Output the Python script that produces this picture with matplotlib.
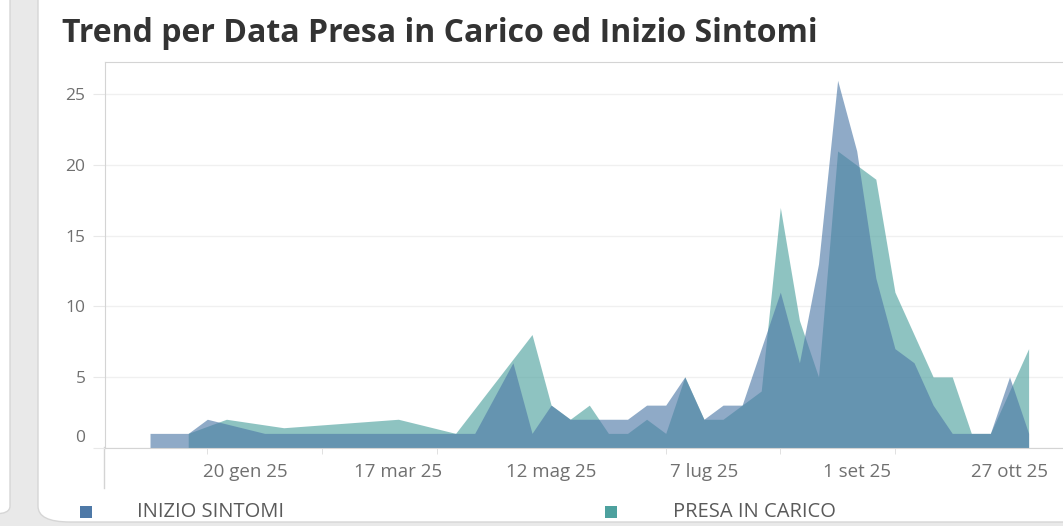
import matplotlib
matplotlib.use("Agg")
import matplotlib.pyplot as plt
import matplotlib.transforms as mtrans
from matplotlib.patches import FancyBboxPatch, Rectangle
import pandas as pd

# weekly points (Monday of each week)
sintomi_dates = ["2024-12-16", "2024-12-23", "2024-12-30", "2025-01-06", "2025-01-27",
                 "2025-04-07", "2025-04-14", "2025-04-28", "2025-05-05", "2025-05-12",
                 "2025-05-19", "2025-05-26", "2025-06-02", "2025-06-09", "2025-06-16",
                 "2025-06-23", "2025-06-30", "2025-07-07", "2025-07-14", "2025-07-21",
                 "2025-07-28", "2025-08-04", "2025-08-11", "2025-08-18", "2025-08-25",
                 "2025-09-01", "2025-09-08", "2025-09-15", "2025-09-22", "2025-09-29",
                 "2025-10-06", "2025-10-13", "2025-10-20", "2025-10-27", "2025-11-03"]
sintomi_vals = [1, 1, 1, 2, 1,
                1, 1, 6, 1, 3,
                2, 2, 2, 2, 3,
                3, 5, 2, 3, 3,
                7, 11, 6, 13, 26,
                21, 12, 7, 6, 3,
                1, 1, 1, 5, 1]

carico_dates = ["2024-12-30", "2025-01-13", "2025-02-03", "2025-03-17", "2025-04-07",
                "2025-05-05", "2025-05-12", "2025-05-19", "2025-05-26", "2025-06-02",
                "2025-06-09", "2025-06-16", "2025-06-23", "2025-06-30", "2025-07-07",
                "2025-07-14", "2025-07-21", "2025-07-28", "2025-08-04", "2025-08-11",
                "2025-08-18", "2025-08-25", "2025-09-01", "2025-09-08", "2025-09-15",
                "2025-09-22", "2025-09-29", "2025-10-06", "2025-10-13", "2025-10-20",
                "2025-10-27", "2025-11-03"]
carico_vals = [1, 2, 1.4, 2, 1,
               8, 3, 2, 3, 1,
               1, 2, 1, 5, 2,
               2, 3, 4, 17, 9,
               5, 21, 20, 19, 11,
               8, 5, 5, 1, 1,
               4, 7]

sintomi = pd.Series(sintomi_vals, index=pd.to_datetime(sintomi_dates))
carico = pd.Series(carico_vals, index=pd.to_datetime(carico_dates))

label_dates = ["2025-01-20", "2025-03-17", "2025-05-12", "2025-07-07", "2025-09-01", "2025-10-27"]
label_text = ["20 gen 25", "17 mar 25", "12 mag 25", "7 lug 25", "1 set 25", "27 ott 25"]
minor_dates = ["2025-01-06", "2025-02-17", "2025-03-31", "2025-05-12", "2025-06-23",
               "2025-08-04", "2025-09-15", "2025-10-27"]

BLUE = "#4e79a7"
TEAL = "#4da19e"

W, H = 1063, 526
fig = plt.figure(figsize=(W / 100, H / 100), dpi=100)
fig.patch.set_facecolor("#e9e9e9")

# card backgrounds
card = FancyBboxPatch((38 / W, 4 / H), 1.2, 1.2, boxstyle="round,pad=0,rounding_size=0.03",
                      transform=fig.transFigure, facecolor="white", edgecolor="#d6d6d6",
                      linewidth=1.0, zorder=-5)
fig.patches.append(card)
left_card = FancyBboxPatch((-0.1, 12 / H), 0.1 + 10 / W, 1.2, boxstyle="round,pad=0,rounding_size=0.015",
                           transform=fig.transFigure, facecolor="white", edgecolor="#d6d6d6",
                           linewidth=1.0, zorder=-5)
fig.patches.append(left_card)

fig.text(62 / W, 1 - 33 / H, "Trend per Data Presa in Carico ed Inizio Sintomi",
         fontsize=23, fontweight="bold", color="#333333", family="Open Sans", va="center")

ax = fig.add_axes([105 / W, 1 - 447.5 / H, (1075 - 105) / W, (447.5 - 62) / H])
ax.set_zorder(2)
ax.set_facecolor("white")

ax.fill_between(carico.index, carico.values, 0, color=TEAL, alpha=0.63, linewidth=0)
ax.fill_between(sintomi.index, sintomi.values, 0, color=BLUE, alpha=0.63, linewidth=0)

ax.set_xlim(pd.Timestamp("2024-11-29 12:00"), pd.Timestamp("2025-11-20"))
ax.set_ylim(0, 27.3)

ax.set_yticks([0, 5, 10, 15, 20, 25])
ax.set_yticklabels(["0", "5", "10", "15", "20", "25"])
ax.tick_params(axis="y", length=9, color="#e8e8e8", labelcolor="#707070", labelsize=12.5, pad=5)
for lab in ax.get_yticklabels():
    lab.set_family("Open Sans")
    if lab.get_text() == "0":
        lab.set_transform(lab.get_transform() + mtrans.ScaledTranslation(0, 11 / 100, fig.dpi_scale_trans))
ax.grid(axis="y", color="#f0f0f0", linewidth=1)
ax.set_axisbelow(True)

ax.set_xticks(pd.to_datetime(minor_dates), minor=True)
ax.set_xticks(pd.to_datetime(label_dates))
ax.set_xticklabels(label_text)
ax.tick_params(axis="x", which="major", length=0, labelcolor="#707070", labelsize=13.5, pad=11)
ax.tick_params(axis="x", which="minor", length=4, color="#dcdcdc")
for lab in ax.get_xticklabels():
    lab.set_family("Open Sans")

for s in ["left", "bottom", "top"]:
    ax.spines[s].set_color("#d4d4d4")
ax.spines["right"].set_visible(False)

# divider below axis
fig.add_artist(plt.Line2D([104 / W, 104 / W], [1 - 447 / H, 1 - 488 / H], color="#d4d4d4", linewidth=1))

# legend
fig.patches.append(Rectangle((80 / W, 1 - 518 / H), 12 / W, 12 / H, transform=fig.transFigure,
                             facecolor=BLUE, edgecolor="none"))
fig.text(137 / W, 1 - 512 / H, "INIZIO SINTOMI", fontsize=14.5, color="#5a5a5a", family="Open Sans", va="center")
fig.patches.append(Rectangle((605 / W, 1 - 518 / H), 12 / W, 12 / H, transform=fig.transFigure,
                             facecolor=TEAL, edgecolor="none"))
fig.text(673 / W, 1 - 512 / H, "PRESA IN CARICO", fontsize=14.5, color="#5a5a5a", family="Open Sans", va="center")

fig.savefig("out.png", dpi=100, facecolor=fig.get_facecolor())
